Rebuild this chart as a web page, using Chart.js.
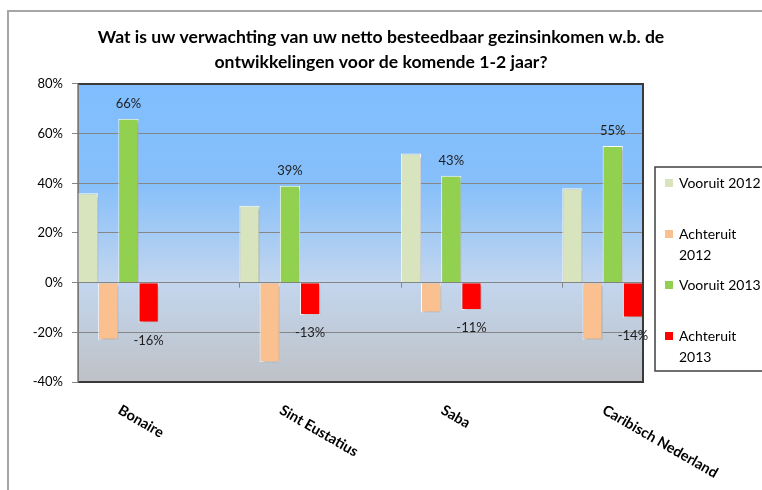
<!DOCTYPE html>
<html>
<head>
<meta charset="utf-8">
<script src="https://cdn.jsdelivr.net/npm/chart.js@4.4.1/dist/chart.umd.min.js"></script>
<style>
  html, body { margin: 0; padding: 0; background: #fff; overflow: hidden; }
  #wrap { width: 762px; height: 490px; position: relative; }
</style>
</head>
<body>
<div id="wrap"><canvas id="c" width="762" height="490"></canvas></div>
<script>
const titleLines = ['Wat is uw verwachting van uw netto besteedbaar gezinsinkomen w.b. de', 'ontwikkelingen voor de komende 1-2 jaar?'];
const categories = ['Bonaire', 'Sint Eustatius', 'Saba', 'Caribisch Nederland'];
const seriesNames = ['Vooruit 2012', 'Achteruit 2012', 'Vooruit 2013', 'Achteruit 2013'];
const vooruit2012 = [36, 31, 52, 38];
const achteruit2012 = [-23, -32, -12, -23];
const vooruit2013 = [66, 39, 43, 55];
const achteruit2013 = [-16, -13, -11, -14];
const yMin = -40, yMax = 80, yStep = 20;
const labelledSeries = [2, 3];

const colors = ['#D7E4BD', '#FAC090', '#92D050', '#FF0000'];
const allValues = [vooruit2012, achteruit2012, vooruit2013, achteruit2013];
const CAT_PCT = 0.5;

const datasets = allValues.map((vals, s) => ({
  label: seriesNames[s],
  data: vals.map((v, i) => ({ x: i, y: v })),
  backgroundColor: colors[s],
  borderColor: '#FFFFFF',
  borderWidth: 1,
  categoryPercentage: CAT_PCT,
  barPercentage: 1.0
}));

const decorPlugin = {
  id: 'decor',
  beforeDraw(chart) {
    const ctx = chart.ctx;
    const a = chart.chartArea;
    ctx.save();
    ctx.strokeStyle = '#A6A6A6';
    ctx.lineWidth = 2;
    ctx.beginPath();
    ctx.moveTo(8, 600);
    ctx.lineTo(8, 11);
    ctx.lineTo(900, 11);
    ctx.stroke();
    const g = ctx.createLinearGradient(0, a.top, 0, a.bottom);
    g.addColorStop(0, '#80BEFF');
    g.addColorStop(0.33, '#86BFFA');
    g.addColorStop(0.67, '#C3D6EE');
    g.addColorStop(1, '#BEC1C6');
    ctx.fillStyle = g;
    ctx.fillRect(a.left, a.top, a.right - a.left, a.bottom - a.top);
    ctx.restore();
  },
  beforeDatasetsDraw(chart) {
    const ctx = chart.ctx;
    ctx.save();
    ctx.shadowColor = 'rgba(0,0,0,0.28)';
    ctx.shadowBlur = 3;
    ctx.shadowOffsetX = 2;
    ctx.shadowOffsetY = 2;
  },
  afterDatasetsDraw(chart) {
    const ctx = chart.ctx;
    ctx.restore();
    const a = chart.chartArea;
    const xs = chart.scales.x, ys = chart.scales.y;
    ctx.save();
    const y0 = ys.getPixelForValue(0);
    ctx.strokeStyle = '#868686';
    ctx.lineWidth = 1;
    for (let i = 1; i < categories.length; i++) {
      const px = Math.round(xs.getPixelForValue(i - CAT_PCT / 2)) + 0.5;
      ctx.beginPath();
      ctx.moveTo(px, y0);
      ctx.lineTo(px, y0 + 5);
      ctx.stroke();
    }
    ctx.strokeStyle = '#3A3A3A';
    ctx.lineWidth = 2;
    ctx.beginPath();
    ctx.moveTo(a.left, a.top);
    ctx.lineTo(a.right, a.top);
    ctx.lineTo(a.right, a.bottom);
    ctx.lineTo(a.left, a.bottom);
    ctx.stroke();
    ctx.strokeStyle = '#7A7A7A';
    ctx.lineWidth = 1.5;
    ctx.beginPath();
    ctx.moveTo(a.left, a.top);
    ctx.lineTo(a.left, a.bottom);
    ctx.stroke();

    ctx.fillStyle = '#1E1E1E';
    ctx.font = '13px Lato';
    ctx.textAlign = 'center';
    ctx.textBaseline = 'middle';
    labelledSeries.forEach(s => {
      const meta = chart.getDatasetMeta(s);
      meta.data.forEach((bar, i) => {
        const v = allValues[s][i];
        const ty = v >= 0 ? bar.y - 15 : bar.y + 18;
        ctx.fillText(v + '%', bar.x, ty);
      });
    });

    ctx.font = 'bold 14.5px Lato';
    ctx.fillStyle = '#000';
    ctx.textAlign = 'left';
    ctx.textBaseline = 'middle';
    categories.forEach((c, i) => {
      const px = xs.getPixelForValue(i);
      ctx.save();
      ctx.translate(px + 1, a.bottom + 27);
      ctx.rotate(30 * Math.PI / 180);
      ctx.fillText(c, 0, 0);
      ctx.restore();
    });

    const lx = 655, ly = 167, lh = 204, lRight = 900;
    ctx.fillStyle = '#FFFFFF';
    ctx.fillRect(lx, ly, lRight - lx, lh);
    ctx.strokeStyle = '#404040';
    ctx.lineWidth = 1.5;
    ctx.beginPath();
    ctx.moveTo(lRight, ly);
    ctx.lineTo(lx, ly);
    ctx.lineTo(lx, ly + lh);
    ctx.lineTo(lRight, ly + lh);
    ctx.stroke();
    ctx.font = '14px Lato';
    ctx.textAlign = 'left';
    ctx.textBaseline = 'middle';
    const maxW = 86;
    chart.data.datasets.forEach((ds, s) => {
      const cy = ly + 16 + s * 51;
      ctx.fillStyle = ds.backgroundColor;
      ctx.fillRect(lx + 10, cy - 4, 8, 8);
      ctx.fillStyle = '#000';
      const name = ds.label;
      let lines = [name];
      if (ctx.measureText(name).width > maxW) {
        const k = name.lastIndexOf(' ');
        lines = [name.slice(0, k), name.slice(k + 1)];
      }
      lines.forEach((ln, j) => ctx.fillText(ln, lx + 24, cy + j * 21));
    });
    ctx.restore();
  }
};

new Chart(document.getElementById('c'), {
  type: 'bar',
  data: { datasets },
  plugins: [decorPlugin],
  options: {
    responsive: false,
    animation: false,
    layout: { padding: { left: 0, right: 0, top: 0, bottom: 108 } },
    plugins: {
      legend: { display: false },
      tooltip: { enabled: false },
      title: {
        display: true,
        text: titleLines,
        color: '#000',
        font: { family: 'Lato', size: 17.6, weight: 'bold', lineHeight: 1.42 },
        padding: { top: 25, bottom: 9 }
      }
    },
    scales: {
      x: {
        type: 'linear',
        display: false,
        min: -CAT_PCT / 2,
        max: categories.length - 1 + CAT_PCT / 2,
        offset: false,
        ticks: { stepSize: 1, includeBounds: false }
      },
      y: {
        min: yMin,
        max: yMax,
        afterFit(scale) { scale.width = 78; },
        ticks: {
          stepSize: yStep,
          padding: 9,
          color: '#000',
          font: { family: 'Lato', size: 13 },
          callback: v => v + '%'
        },
        grid: { color: '#868686', lineWidth: 1, drawTicks: true, tickLength: 6, tickColor: '#868686' },
        border: { display: true, color: '#7A7A7A' }
      },
      yr: {
        position: 'right',
        min: yMin,
        max: yMax,
        display: true,
        afterFit(scale) { scale.width = 119; },
        ticks: { display: false },
        grid: { display: false, drawTicks: false },
        border: { display: false }
      }
    }
  }
});
</script>
</body>
</html>
